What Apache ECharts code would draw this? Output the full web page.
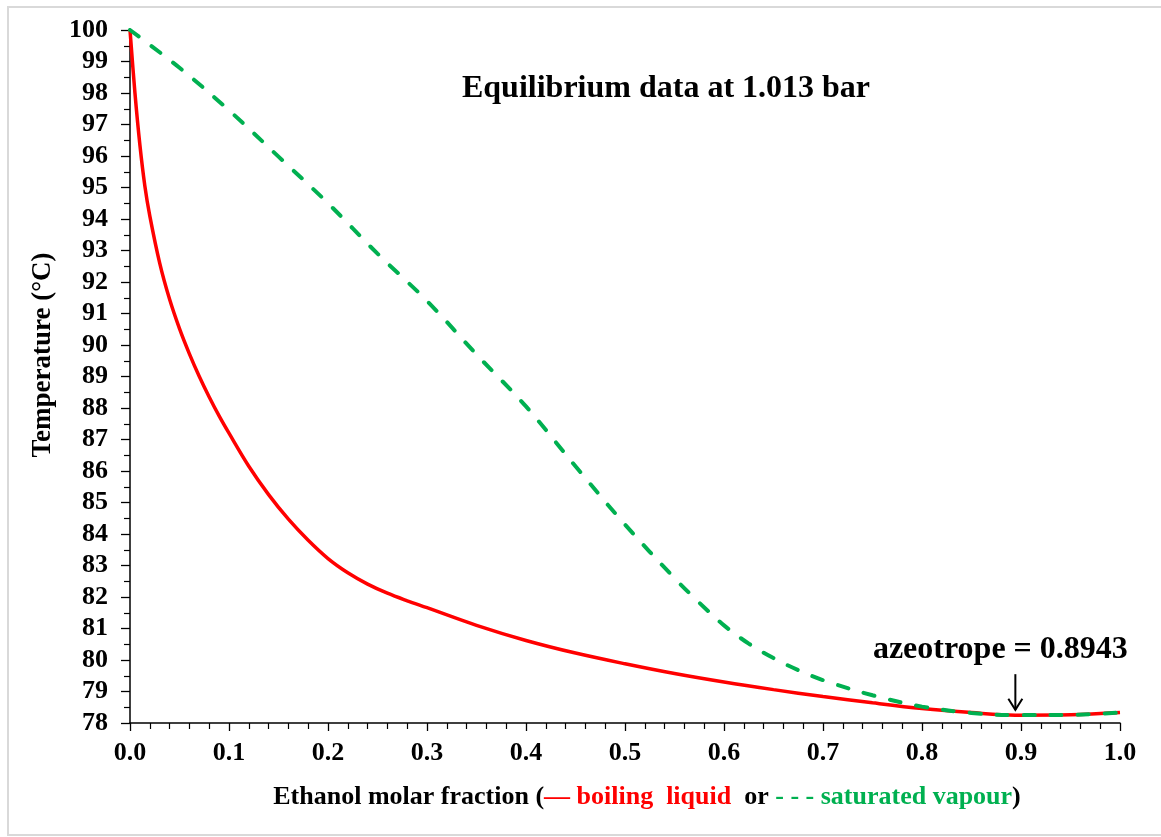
<!DOCTYPE html>
<html><head><meta charset="utf-8">
<script src="https://cdn.jsdelivr.net/npm/echarts@6/dist/echarts.min.js"></script>
<style>html,body{margin:0;padding:0;background:#fff}#c{width:1161px;height:837px}</style>
</head><body><div id="c"></div>
<script>
// Boiling liquid curve (ethanol molar fraction x, temperature °C)
const liquidX = [0, 0.005, 0.01, 0.015, 0.02, 0.03, 0.04, 0.05, 0.06, 0.07, 0.08, 0.09, 0.10, 0.12, 0.14, 0.16, 0.18, 0.20, 0.22, 0.24, 0.26, 0.28, 0.30, 0.35, 0.40, 0.45, 0.50, 0.55, 0.60, 0.65, 0.70, 0.75, 0.80, 0.85, 0.8943, 0.95, 1.0];
const liquidT = [100, 98.0, 96.35, 95.05, 94.1, 92.6, 91.45, 90.52, 89.72, 89.0, 88.35, 87.75, 87.2, 86.15, 85.25, 84.47, 83.8, 83.22, 82.77, 82.41, 82.12, 81.88, 81.66, 81.1, 80.62, 80.22, 79.88, 79.57, 79.3, 79.06, 78.84, 78.64, 78.46, 78.33, 78.25, 78.26, 78.33];
// Saturated vapour curve (ethanol molar fraction y, temperature °C)
const vapourX = [0, 0.05, 0.10, 0.15, 0.20, 0.25, 0.30, 0.35, 0.40, 0.45, 0.50, 0.55, 0.575, 0.60, 0.625, 0.65, 0.675, 0.70, 0.75, 0.80, 0.85, 0.8943, 0.95, 1.0];
const vapourT = [100, 98.8, 97.45, 95.98, 94.5, 92.9, 91.4, 89.7, 88.05, 86.15, 84.3, 82.6, 81.82, 81.1, 80.52, 80.06, 79.68, 79.36, 78.88, 78.52, 78.32, 78.25, 78.26, 78.33];
// Azeotrope arrow: x, arrow top T, arrow tip T
const azeotropeX = 0.8943;
const arrowT = [79.55, 78.42];
const azeotropeLabel = 'azeotrope = 0.8943';
const titleText = 'Equilibrium data at 1.013 bar';
const yAxisTitle = 'Temperature (°C)';
const xRange = [0, 1];
const yRange = [78, 100];

const FONT = "'Liberation Serif', 'Times New Roman', serif";
const liquidData = liquidX.map((x, i) => [x, liquidT[i]]);
const vapourData = vapourX.map((x, i) => [x, vapourT[i]]);

const chart = echarts.init(document.getElementById('c'), null, {renderer: 'canvas'});
chart.setOption({
  animation: false,
  backgroundColor: '#fff',
  grid: {left: 130, right: 41, top: 30, bottom: 114, containLabel: false},
  xAxis: {
    type: 'value', min: xRange[0], max: xRange[1], interval: 0.1,
    axisLine: {show: true, onZero: false, lineStyle: {color: '#000', width: 1.5}},
    axisTick: {show: true, inside: false, length: 8, lineStyle: {color: '#000', width: 1.3}},
    minorTick: {show: true, splitNumber: 5, length: 6, lineStyle: {color: '#000', width: 1.2}},
    splitLine: {show: false},
    axisLabel: {margin: 17, color: '#000', fontFamily: FONT, fontWeight: 'bold', fontSize: 26,
      formatter: v => v.toFixed(1)}
  },
  yAxis: {
    type: 'value', min: yRange[0], max: yRange[1], interval: 1,
    axisLine: {show: true, onZero: false, lineStyle: {color: '#000', width: 1.5}},
    axisTick: {show: true, inside: false, length: 9, lineStyle: {color: '#000', width: 1.3}},
    minorTick: {show: true, splitNumber: 2, length: 6, lineStyle: {color: '#000', width: 1.2}},
    splitLine: {show: false},
    axisLabel: {margin: 22, color: '#000', fontFamily: FONT, fontWeight: 'bold', fontSize: 26,
      formatter: v => String(v)}
  },
  graphic: [
    {type: 'rect', shape: {x: 8, y: 7, width: 1170, height: 828}, style: {fill: null, stroke: '#d9d9d9', lineWidth: 2}, silent: true, z: -1},
    {type: 'text', x: 666, y: 89,
      style: {text: titleText, font: 'bold 32px ' + FONT, fill: '#000', align: 'center', verticalAlign: 'middle'}},
    {type: 'text', x: 43, y: 355, rotation: Math.PI / 2,
      style: {text: yAxisTitle, font: 'bold 27px ' + FONT, fill: '#000', align: 'center', verticalAlign: 'middle'}},
    {type: 'text', x: 647, y: 797,
      style: {
        text: '{b|Ethanol molar fraction (}{r|— boiling  liquid}{b|  or }{g|- - - saturated vapour}{b|)}',
        align: 'center', verticalAlign: 'middle',
        rich: {
          b: {font: 'bold 26px ' + FONT, fill: '#000'},
          r: {font: 'bold 26px ' + FONT, fill: '#ff0000'},
          g: {font: 'bold 26px ' + FONT, fill: '#00b050'}
        }
      }}
  ],
  series: [
    {type: 'line', name: 'boiling liquid', data: liquidData, showSymbol: false, smooth: 0.35,
      lineStyle: {color: '#ff0000', width: 3.5}, z: 2},
    {type: 'line', name: 'saturated vapour', data: vapourData, showSymbol: false, smooth: 0.35,
      lineStyle: {color: '#00b050', width: 4, type: [11, 16], cap: 'round'}, z: 3},
    {type: 'custom', coordinateSystem: 'cartesian2d', z: 4,
      data: [[azeotropeX, arrowT[0], arrowT[1]]],
      encode: {x: 0, y: [1, 2]},
      renderItem: function (params, api) {
        const top = api.coord([api.value(0), api.value(1)]);
        const tip = api.coord([api.value(0), api.value(2)]);
        return {type: 'group', children: [
          {type: 'line', shape: {x1: top[0], y1: top[1], x2: tip[0], y2: tip[1]}, style: {stroke: '#000', lineWidth: 2}},
          {type: 'polyline', shape: {points: [[tip[0] - 7, tip[1] - 11], [tip[0], tip[1]], [tip[0] + 7, tip[1] - 11]]},
            style: {stroke: '#000', lineWidth: 2, fill: null}},
          {type: 'text', style: {text: azeotropeLabel, x: top[0] - 15, y: top[1] - 8, align: 'center', verticalAlign: 'bottom',
            font: 'bold 32px ' + FONT, fill: '#000'}}
        ]};
      }}
  ]
});
</script>
</body></html>
